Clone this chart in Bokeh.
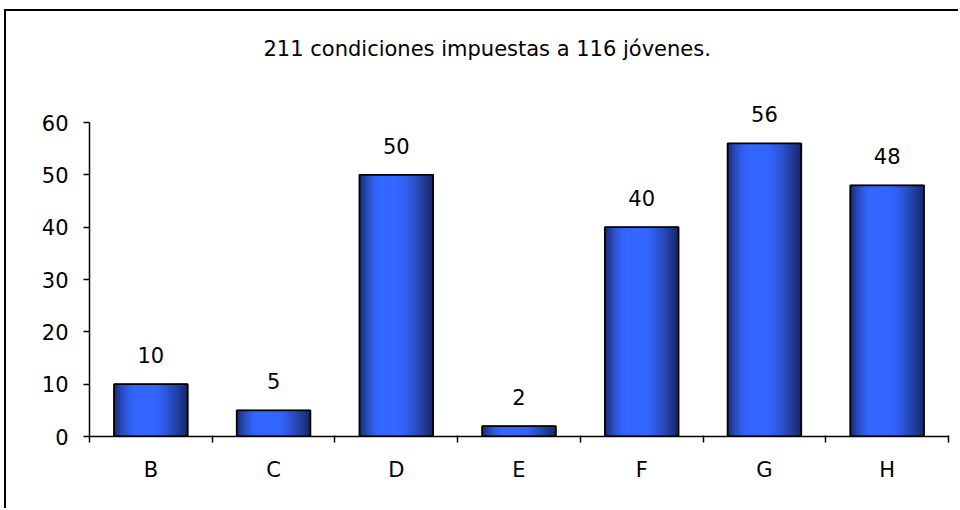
from bokeh.plotting import figure
from bokeh.models import Range1d, FixedTicker, ColumnDataSource, Title
from bokeh.transform import dodge
from bokeh.core.properties import value
from bokeh.embed import file_html
from bokeh.resources import INLINE

categories = ["B", "C", "D", "E", "F", "G", "H"]
counts = [10, 5, 50, 2, 40, 56, 48]
y_ticks = [0, 10, 20, 30, 40, 50, 60]
subtitle = "211 condiciones impuestas a 116 jóvenes."

FONT = "DejaVu Sans"
FS = "21px"
centers = [i + 0.5 for i in range(len(categories))]
bounds = list(range(len(categories) + 1))
y_axis_max = y_ticks[-1]
# frame extends above the axis so the value labels and subtitle have room
y_top = y_axis_max * 374 / 314

src = ColumnDataSource(dict(x=centers, top=counts, label=[str(c) for c in counts]))

p = figure(width=954, height=499, output_backend="svg", toolbar_location=None,
           x_range=Range1d(0, len(categories)), y_range=Range1d(0, y_top),
           min_border_left=83, min_border_right=12, min_border_top=51, min_border_bottom=74,
           title=None)
p.styles = {"border-left": "2px solid black", "border-top": "2px solid black",
            "margin-left": "4px", "margin-top": "9px"}
p.outline_line_color = None
p.xgrid.visible = False
p.ygrid.visible = False
p.background_fill_color = "white"
p.border_fill_color = "white"

t = Title(text=subtitle, align="left", offset=174, standoff=4, text_font=FONT,
          text_font_size=FS, text_font_style="normal", text_color="black",
          vertical_align="bottom")
p.add_layout(t, "above")

# gradient bars built from narrow strips
N = 36
BW = 0.6
dark = (24, 38, 100)
bright = (51, 102, 255)
left_end, right_start = 0.30, 0.55
for i in range(N):
    tt = (i + 0.5) / N
    if tt < left_end:
        b = 1 - ((left_end - tt) / left_end) ** 1.8
    elif tt <= right_start:
        b = 1.0
    else:
        b = 1 - ((tt - right_start) / (1 - right_start)) ** 1.4
    col = tuple(int(round(d + (br - d) * b)) for d, br in zip(dark, bright))
    hexc = "#%02x%02x%02x" % col
    off = -BW / 2 + BW * (i + 0.5) / N
    p.vbar(x=dodge("x", off, range=p.x_range), top="top", bottom=0, width=BW / N,
           source=src, fill_color=hexc, line_color=hexc, line_width=1)
p.vbar(x="x", top="top", bottom=0, width=BW, source=src, fill_color=None,
       line_color="black", line_width=1.8)

p.text(x="x", y="top", text="label", source=src, text_align="center", text_baseline="alphabetic",
       y_offset=-29, text_font=value(FONT), text_font_size=FS, text_color="black")

# axes
xa = p.xaxis[0]
xa.ticker = FixedTicker(ticks=centers, minor_ticks=bounds)
xa.major_label_overrides = {c: lab for c, lab in zip(centers, categories)}
xa.major_tick_line_color = None
xa.major_tick_out = 0
xa.major_tick_in = 0
xa.minor_tick_out = 6
xa.minor_tick_in = 1
xa.minor_tick_line_color = "black"
xa.minor_tick_line_width = 1.5
xa.axis_line_color = "black"
xa.axis_line_width = 1.5
xa.major_label_standoff = 15
xa.major_label_text_font = FONT
xa.major_label_text_font_size = FS
xa.major_label_text_color = "black"

ya = p.yaxis[0]
ya.ticker = FixedTicker(ticks=y_ticks, minor_ticks=[])
ya.bounds = (0, y_axis_max)
ya.major_tick_out = 6
ya.major_tick_in = 0
ya.major_tick_line_color = "black"
ya.major_tick_line_width = 1.5
ya.axis_line_color = "black"
ya.axis_line_width = 1.5
ya.major_label_standoff = 15
ya.major_label_text_font = FONT
ya.major_label_text_font_size = FS
ya.major_label_text_color = "black"
ya.minor_tick_line_color = None

open("out.html", "w").write(file_html(p, INLINE))
